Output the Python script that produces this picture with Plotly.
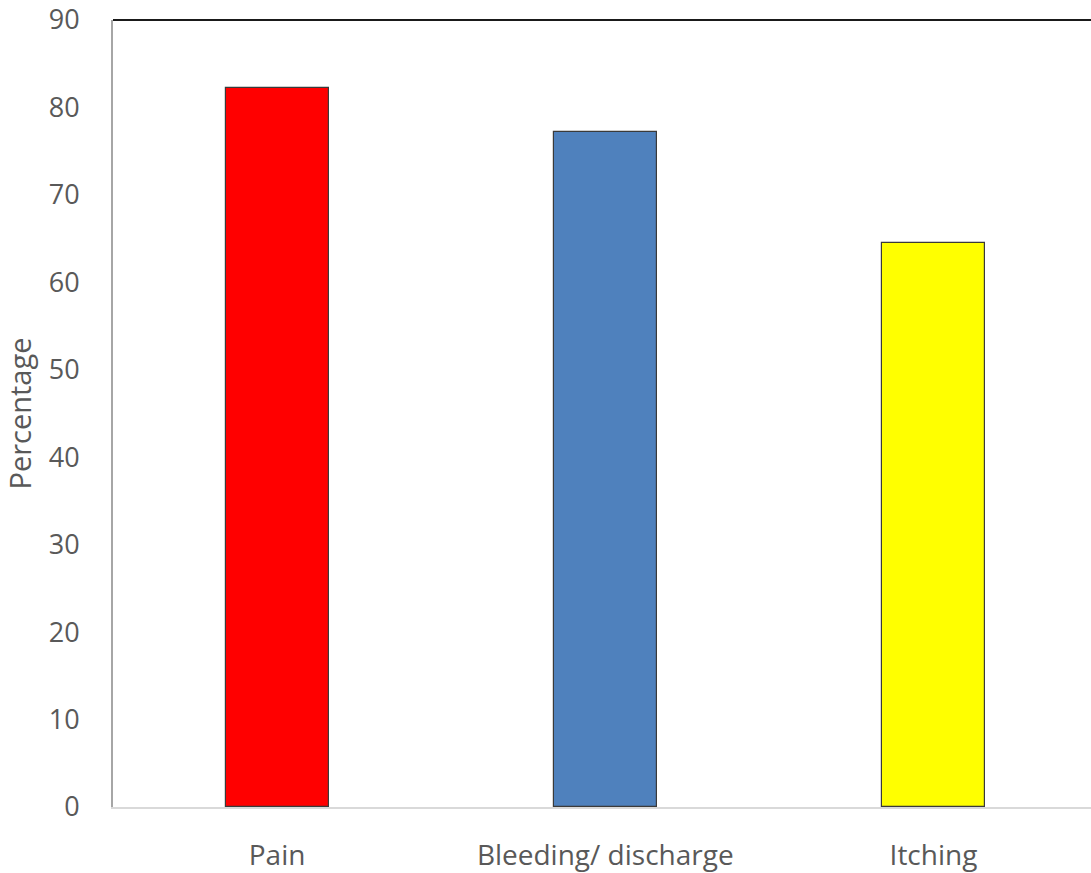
import plotly.graph_objects as go

categories = ["Pain", "Bleeding/ discharge", "Itching"]
percentages = [82.2, 77.2, 64.5]
bar_colors = ["#FF0000", "#4F81BD", "#FFFF00"]
y_ticks = [0, 10, 20, 30, 40, 50, 60, 70, 80, 90]

fig = go.Figure()
fig.add_trace(go.Bar(
    x=[0, 1, 2],
    y=percentages,
    width=0.314,
    marker=dict(color=bar_colors, line=dict(color="#3a3a3a", width=1.2)),
    hoverinfo="skip",
))

font_family = "Open Sans, Liberation Sans, sans-serif"

fig.update_layout(
    width=1091,
    height=873,
    margin=dict(l=113, r=0, t=20, b=66),
    paper_bgcolor="white",
    plot_bgcolor="white",
    showlegend=False,
    bargap=0,
    xaxis=dict(
        range=[-0.5, 2.48],
        tickmode="array",
        tickvals=[0, 1, 2],
        ticktext=categories,
        showgrid=False,
        zeroline=False,
        showline=True,
        linecolor="#d9d9d9",
        linewidth=2,
        ticks="",
        ticklabelstandoff=22,
        tickfont=dict(family=font_family, size=28, color="#595959"),
    ),
    yaxis=dict(
        range=[0, 90],
        tickmode="array",
        tickvals=y_ticks,
        showgrid=False,
        zeroline=False,
        showline=True,
        linecolor="#a6a6a6",
        linewidth=2,
        ticks="",
        ticklabelstandoff=26,
        tickfont=dict(family=font_family, size=27, color="#595959"),
        title=dict(text="Percentage", standoff=12,
                   font=dict(family=font_family, size=29, color="#595959")),
    ),
    shapes=[dict(type="line", xref="paper", yref="paper", x0=0, x1=1, y0=1, y1=1,
                 line=dict(color="#1a1a1a", width=2))],
)

fig.write_html("out.html")
